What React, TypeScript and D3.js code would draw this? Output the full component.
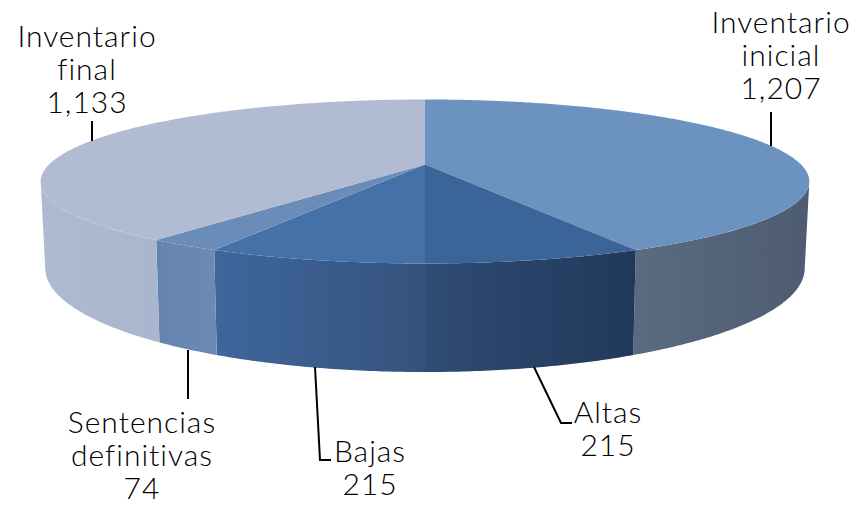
import React, { useEffect, useRef } from 'react';
import * as d3 from 'd3';

const categories = ['Inventario inicial', 'Altas', 'Bajas', 'Sentencias definitivas', 'Inventario final'];
const values = [1207, 215, 215, 74, 1133];
const labelLines = [['Inventario', 'inicial'], ['Altas'], ['Bajas'], ['Sentencias', 'definitivas'], ['Inventario', 'final']];
const topColors = ['#6c93bf', '#3b6499', '#4472a8', '#6a8cb8', '#b1bcd2'];
const wallFrom = ['#5a6a7f', '#2f4c74', '#3f679c', '#6484b0', '#aebad0'];
const wallTo = ['#4d5c72', '#21385a', '#35527c', '#6c8ab2', '#aab6cd'];

// where each label's block sits: centre x, first baseline
const labelX = [781, 608, 370, 142, 87];
const labelY = [33, 423, 462, 433, 47];
const lineGap = 33;

// leader lines, in page pixels
const leaders: [number, number][][] = [
  [[771, 112], [771, 146]],
  [[534, 367], [561, 423], [572, 423]],
  [[315, 367], [320, 460], [331, 460]],
  [[188, 350], [188, 399]],
  [[92, 121], [92, 141]],
];

const WIDTH = 854;
const HEIGHT = 505;
const persp = 0.207; // how much nearer the front of the disc looks
const topPlane = { cx: 425, cy: 164.5, rx: 376, ry: 78.5 };
const bottomPlane = { cx: 425, cy: 246.7, rx: 371.5, ry: 99.4 };

type Plane = typeof topPlane;

// angle on the disc (0 = back, clockwise) to a point on the page
const project = (plane: Plane, angle: number): [number, number] => {
  const X = Math.sin(angle);
  const Y = -Math.cos(angle);
  const w = 1 - persp * Y;
  return [plane.cx + (plane.rx * X) / w, plane.cy + (plane.ry * Y) / w];
};

const sweep = (a0: number, a1: number) => {
  const n = Math.max(2, Math.ceil(Math.abs(a1 - a0) / 0.01));
  return d3.range(n + 1).map((i) => a0 + ((a1 - a0) * i) / n);
};

const App = () => {
  const ref = useRef<SVGSVGElement>(null);

  useEffect(() => {
    const svg = d3.select(ref.current);
    svg.selectAll('*').remove();

    const slices = d3.pie<number>().sort(null)(values);
    const line = d3.line();
    const defs = svg.append('defs');

    const frontStart = Math.acos(-persp); // right silhouette of the disc
    const frontEnd = 2 * Math.PI - frontStart;

    // walls first, tops over them
    slices.forEach((s, i) => {
      const a0 = Math.max(s.startAngle, frontStart);
      const a1 = Math.min(s.endAngle, frontEnd);
      if (a1 <= a0) return;
      const angles = sweep(a0, a1);
      const upper = angles.map((a) => project(topPlane, a));
      const lower = angles.map((a) => project(bottomPlane, a)).reverse();
      const gradient = defs
        .append('linearGradient')
        .attr('id', `wall${i}`)
        .attr('gradientUnits', 'userSpaceOnUse')
        .attr('x1', project(topPlane, a0)[0])
        .attr('x2', project(topPlane, a1)[0])
        .attr('y1', 0)
        .attr('y2', 0);
      gradient.append('stop').attr('offset', 0).attr('stop-color', wallTo[i]);
      gradient.append('stop').attr('offset', 1).attr('stop-color', wallFrom[i]);
      svg
        .append('path')
        .attr('d', line([...upper, ...lower]) + 'Z')
        .attr('fill', `url(#wall${i})`);
    });

    const centre: [number, number] = [topPlane.cx, topPlane.cy];
    slices.forEach((s, i) => {
      const rim = sweep(s.startAngle, s.endAngle).map((a) => project(topPlane, a));
      svg
        .append('path')
        .attr('d', line([centre, ...rim]) + 'Z')
        .attr('fill', topColors[i]);
    });

    leaders.forEach((points) => {
      svg
        .append('path')
        .attr('d', line(points))
        .attr('fill', 'none')
        .attr('stroke', '#000')
        .attr('stroke-width', 2);
    });

    const fmt = d3.format(',');
    categories.forEach((name, i) => {
      const text = svg
        .append('text')
        .attr('aria-label', name)
        .attr('text-anchor', 'middle')
        .attr('font-family', 'Lato, sans-serif')
        .attr('font-weight', 300)
        .attr('font-size', 30)
        .attr('letter-spacing', 1)
        .attr('fill', '#000');
      [...labelLines[i], fmt(values[i])].forEach((t, j) => {
        text
          .append('tspan')
          .attr('x', labelX[i])
          .attr('y', labelY[i] + j * lineGap)
          .text(t);
      });
    });
  }, []);

  return (
    <svg
      ref={ref}
      width={WIDTH}
      height={HEIGHT}
      style={{ position: 'absolute', left: 0, top: 0, background: '#fff' }}
    />
  );
};

export default App;
